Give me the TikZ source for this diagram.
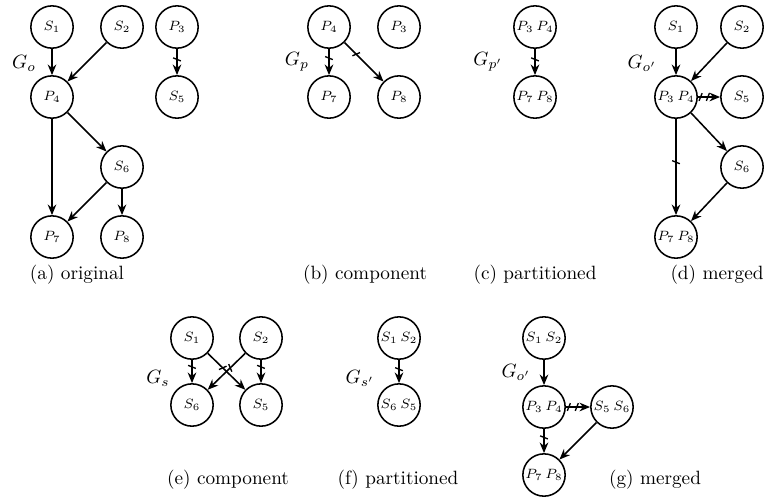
\documentclass[tikz,border=0pt]{standalone}
\usetikzlibrary{arrows.meta, decorations.markings}
\begin{document}
\begin{tikzpicture}[x=.52pt, y=-.52pt, thick, >={Stealth[length=5.5pt, width=4.5pt]},
	vtx/.style={circle, draw, minimum size=22pt, inner sep=0pt, font=\scriptsize},
	cut/.style={postaction={decorate, decoration={markings,
		mark=at position #1 with {\draw[-, line width=.7pt] (-.8pt,-2pt) -- (.8pt,2pt);}}}},
	cut/.default=.35]
	\useasboundingbox (0, 0) rectangle (764, 497);

	% (a) original
	\node[vtx] (a1) at (52, 27) {$S_1$};
	\node[vtx] (a2) at (122, 27) {$S_2$};
	\node[vtx] (a3) at (177, 27) {$P_3$};
	\node[vtx] (a4) at (52, 97) {$P_4$};
	\node[vtx] (a5) at (177, 97) {$S_5$};
	\node[vtx] (a6) at (122, 167) {$S_6$};
	\node[vtx] (a7) at (52, 237) {$P_7$};
	\node[vtx] (a8) at (122, 237) {$P_8$};
	\node (ga) at (24, 63) {$G_o$};
	\draw[->] (a1) -- (a4);
	\draw[->] (a2) -- (a4);
	\draw[->, cut=.4] (a3) -- (a5);
	\draw[->] (a4) -- (a6);
	\draw[->] (a4) -- (a7);
	\draw[->] (a6) -- (a7);
	\draw[->] (a6) -- (a8);
	\node (ca) at (77, 275) {(a) original};

	% (b) component
	\node[vtx] (b4) at (329, 27) {$P_4$};
	\node[vtx] (b3) at (399, 27) {$P_3$};
	\node[vtx] (b7) at (329, 97) {$P_7$};
	\node[vtx] (b8) at (399, 97) {$P_8$};
	\node (gb) at (297, 62) {$G_p$};
	\draw[->, cut] (b4) -- (b7);
	\draw[->, cut=.3] (b4) -- (b8);
	\node (cb) at (365, 275) {(b) component};

	% (c) partitioned
	\node[vtx] (c34) at (535, 27) {$P_3\,P_4$};
	\node[vtx] (c78) at (535, 97) {$P_7\,P_8$};
	\node (gc) at (488, 62) {$G_{p'}$};
	\draw[->, cut=.4] (c34) -- (c78);
	\node (cc) at (535, 275) {(c) partitioned};

	% (d) merged
	\node[vtx] (d1) at (676, 27) {$S_1$};
	\node[vtx] (d2) at (742, 27) {$S_2$};
	\node[vtx] (d34) at (676, 97) {$P_3\,P_4$};
	\node[vtx] (d5) at (742, 97) {$S_5$};
	\node[vtx] (d6) at (742, 167) {$S_6$};
	\node[vtx] (d78) at (676, 237) {$P_7\,P_8$};
	\node (gd) at (642, 63) {$G_{o'}$};
	\draw[->] (d1) -- (d34);
	\draw[->] (d2) -- (d34);
	\draw[->, cut=.12, cut=.45] (d34) -- (d5);
	\draw[->] (d34) -- (d6);
	\draw[->, cut=.45] (d34) -- (d78);
	\draw[->] (d6) -- (d78);
	\node (cd) at (717, 275) {(d) merged};

	% (e) component
	\node[vtx] (e1) at (192, 338) {$S_1$};
	\node[vtx] (e2) at (261, 338) {$S_2$};
	\node[vtx] (e6) at (192, 405) {$S_6$};
	\node[vtx] (e5) at (261, 405) {$S_5$};
	\node (ge) at (158, 378) {$G_s$};
	\draw[->, cut=.3] (e1) -- (e6);
	\draw[->, cut=.4] (e1) -- (e5);
	\draw[->, cut=.4] (e2) -- (e6);
	\draw[->, cut=.3] (e2) -- (e5);
	\node (ce) at (228, 480) {(e) component};

	% (f) partitioned
	\node[vtx] (f12) at (399, 338) {$S_1\,S_2$};
	\node[vtx] (f65) at (399, 405) {$S_6\,S_5$};
	\node (gf) at (360, 378) {$G_{s'}$};
	\draw[->, cut=.4] (f12) -- (f65);
	\node (cf) at (398, 480) {(f) partitioned};

	% (g) merged
	\node[vtx] (g12) at (544, 338) {$S_1\,S_2$};
	\node[vtx] (g34) at (544, 407) {$P_3\,P_4$};
	\node[vtx] (g56) at (612, 407) {$S_5\,S_6$};
	\node[vtx] (g78) at (544, 475) {$P_7\,P_8$};
	\node (gg) at (516, 372) {$G_{o'}$};
	\draw[->] (g12) -- (g34);
	\draw[->, cut=.12, cut=.45] (g34) -- (g56);
	\draw[->, cut=.35] (g34) -- (g78);
	\draw[->] (g56) -- (g78);
	\node (cg) at (655, 480) {(g) merged};
\end{tikzpicture}
\end{document}
